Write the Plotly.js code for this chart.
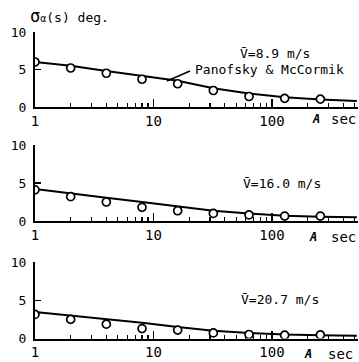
<!DOCTYPE html>
<html><head><meta charset="utf-8">
<script src="https://cdn.plot.ly/plotly-3.0.1.min.js"></script>
<style>html,body{margin:0;padding:0;background:#fff}</style>
</head><body>
<div id="chart" style="width:359px;height:362px"></div>
<script>
// Averaging time s (sec) of measured points
const pointS = [1, 2, 4, 8, 16, 32, 64, 128, 256];
// Panofsky & McCormik curve sample times
const curveS = [1, 2, 4, 8, 16, 32, 64, 128, 256, 520];

// Panel 1: V = 8.9 m/s
const pts1 = [6.0, 5.2, 4.5, 3.7, 3.1, 2.2, 1.4, 1.15, 1.05];
const crv1 = [6.0, 5.5, 4.8, 4.1, 3.5, 2.5, 1.8, 1.3, 1.0, 0.8];
// Panel 2: V = 16.0 m/s
const pts2 = [4.1, 3.2, 2.5, 1.8, 1.35, 1.0, 0.8, 0.65, 0.65];
const crv2 = [4.2, 3.6, 3.05, 2.5, 1.9, 1.35, 1.0, 0.7, 0.57, 0.5];
// Panel 3: V = 20.7 m/s
const pts3 = [3.15, 2.5, 1.87, 1.3, 1.1, 0.73, 0.52, 0.43, 0.47];
const crv3 = [3.45, 3.0, 2.55, 2.05, 1.5, 1.0, 0.73, 0.52, 0.43, 0.35];

const speedLabels = ['V\u0304=8.9 m/s', 'V\u0304=16.0 m/s', 'V\u0304=20.7 m/s'];
const xTickVals = [1, 10, 100];
const xTickText = ['1', '10', '100'];
const xMinorVals = [2,3,4,5,6,7,8,9,20,30,40,50,60,70,80,90,200,300,400,500];
const yTickVals = [0, 5, 10];

const W = 359, H = 362, L = 35, R = 1;
const px = p => (p - L) / (W - L - R);
const py = p => 1 - p / H;
const FONT = 'DejaVu Sans Mono, Liberation Mono, monospace';

const pts = [pts1, pts2, pts3];
const crvs = [crv1, crv2, crv3];
const axisPix = [[107, 32], [221, 145], [338.5, 262]];

const data = [];
const layout = {
  width: W, height: H,
  margin: {l: L, r: R, t: 0, b: 0},
  paper_bgcolor: '#fff', plot_bgcolor: '#fff',
  showlegend: false,
  font: {family: FONT, size: 13, color: '#000'},
  annotations: [], shapes: []
};

for (let i = 0; i < 3; i++) {
  const xa = i === 0 ? 'x' : 'x' + (i + 1);
  const ya = i === 0 ? 'y' : 'y' + (i + 1);
  data.push({x: curveS, y: crvs[i], xaxis: xa, yaxis: ya, mode: 'lines',
             line: {color: '#000', width: 2}, hoverinfo: 'skip'});
  data.push({x: pointS, y: pts[i], xaxis: xa, yaxis: ya, mode: 'markers',
             marker: {symbol: 'circle', size: 8, color: '#fff', line: {color: '#000', width: 1.7}}});
  const xk = i === 0 ? 'xaxis' : 'xaxis' + (i + 1);
  const yk = i === 0 ? 'yaxis' : 'yaxis' + (i + 1);
  layout[xk] = {
    type: 'log', range: [0, 2.726], anchor: ya,
    showline: true, linecolor: '#000', linewidth: 2,
    showgrid: false, zeroline: false,
    tickmode: 'array', tickvals: xTickVals, ticktext: xTickText,
    ticks: 'inside', ticklen: 8, tickwidth: 1.5, tickcolor: '#000',
    tickfont: {family: FONT, size: 14, color: '#000'},
    minor: {tickmode: 'array', tickvals: xMinorVals, ticks: 'inside', ticklen: 4, tickwidth: 1.2, tickcolor: '#000', showgrid: false}
  };
  layout[yk] = {
    range: [0, 10], domain: [py(axisPix[i][0]), py(axisPix[i][1])], anchor: xa,
    showline: true, linecolor: '#000', linewidth: 2,
    showgrid: false, zeroline: false,
    tickmode: 'array', tickvals: yTickVals,
    ticks: 'inside', ticklen: 6, tickwidth: 1.5, tickcolor: '#000',
    ticklabelstandoff: 4,
    tickfont: {family: FONT, size: 13, color: '#000'}
  };
}

const ann = layout.annotations;
function addText(cx, cy, text, size, anchor) {
  ann.push({xref: 'paper', yref: 'paper', x: px(cx), y: py(cy), xanchor: anchor || 'center', yanchor: 'middle',
            text: text, showarrow: false, font: {family: FONT, size: size, color: '#000'}});
}
addText(28, 16, '<span style="font-size:17px">\u03c3</span><span style="font-size:10px">\u03b1</span>(s) deg.', 13, 'left');
const labelPos = [[275, 53], [282, 183], [280, 299]];
for (let i = 0; i < 3; i++) addText(labelPos[i][0], labelPos[i][1], speedLabels[i], 13);
addText(269, 69, 'Panofsky & McCormik', 13);
const secPos = [[316, 343, 119], [313, 343, 237], [308, 340, 354]];
for (const s of secPos) {
  addText(s[0], s[2], '<i><b>A</b></i>', 12);
  addText(s[1], s[2], 'sec', 14);
}
layout.shapes.push({type: 'line', xref: 'paper', yref: 'paper', x0: px(167), y0: py(81), x1: px(190), y1: py(71),
                    line: {color: '#000', width: 1.5}});

Plotly.newPlot('chart', data, layout, {displayModeBar: false, staticPlot: true});
</script>
</body></html>
